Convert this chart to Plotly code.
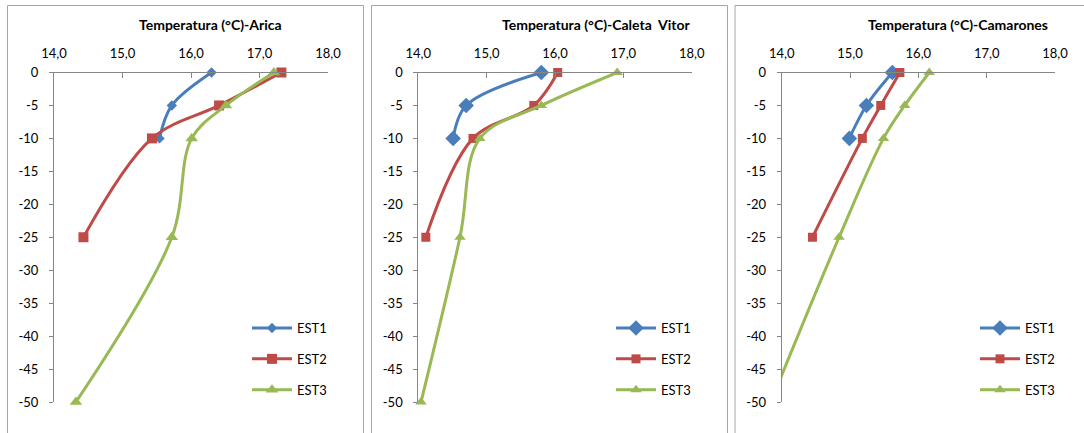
import plotly.graph_objects as go

# ---------------- data ----------------
stations = ["Arica", "Caleta  Vitor", "Camarones"]
series_names = ["EST1", "EST2", "EST3"]

depth_est1 = [0, -5, -10]
depth_est2 = [0, -5, -10, -25]
depth_est3 = [0, -5, -10, -25, -50]

arica_est1 = [16.30, 15.72, 15.54]
arica_est2 = [17.32, 16.41, 15.43, 14.43]
arica_est3 = [17.21, 16.51, 16.01, 15.72, 14.32]

vitor_est1 = [15.80, 14.70, 14.51]
vitor_est2 = [16.04, 15.69, 14.80, 14.11]
vitor_est3 = [16.91, 15.80, 14.90, 14.61, 14.04]

camarones_est1 = [15.62, 15.24, 14.99]
camarones_est2 = [15.73, 15.45, 15.18, 14.45]
camarones_est3 = [16.16, 15.80, 15.49, 14.84, 13.84]

x_tickvals = [14, 15, 16, 17, 18]
x_ticktext = ["14,0", "15,0", "16,0", "17,0", "18,0"]
y_tickvals = [0, -5, -10, -15, -20, -25, -30, -35, -40, -45, -50]
y_ticktext = ["0", "-5", "-10", "-15", "-20", "-25", "-30", "-35", "-40", "-45", "-50"]

panel_values = [
    [arica_est1, arica_est2, arica_est3],
    [vitor_est1, vitor_est2, vitor_est3],
    [camarones_est1, camarones_est2, camarones_est3],
]
depths = [depth_est1, depth_est2, depth_est3]

# ---------------- style ----------------
W, H = 1084, 433
colors = ["#4A7EBB", "#BE4B48", "#98B954"]
symbols = ["diamond", "square", "triangle-up"]
msizes = [[8, 10, 11], [12, 9, 10], [12, 9, 10]]
FONT = "Lato"
AX = "#868686"

plot_px = [(54, 328), (418.3, 691.7), (781.7, 1055)]
y_top, y_bot = 72.5, 402
title_cx = [210, 596, 958]
legend_x = [247, 611, 975]
borders = [(7.5, 363.5), (371.5, 727.5), (735, 1100)]

fig = go.Figure()
legend_ids = ["legend", "legend2", "legend3"]

for p in range(3):
    xa = "x" if p == 0 else f"x{p+1}"
    ya = "y" if p == 0 else f"y{p+1}"
    for s in range(3):
        fig.add_trace(go.Scatter(
            x=panel_values[p][s], y=depths[s], name=series_names[s],
            mode="lines+markers", line=dict(color=colors[s], width=3, shape="spline", smoothing=1),
            marker=dict(symbol=symbols[s], size=msizes[p][s], color=colors[s]),
            xaxis=xa, yaxis=ya, cliponaxis=False,
            legend=legend_ids[p], legendgroup=f"g{p}{s}",
        ))

layout = dict(
    width=W, height=H, margin=dict(l=0, r=0, t=0, b=0, autoexpand=False),
    paper_bgcolor="white", plot_bgcolor="white",
    font=dict(family=FONT, size=13, color="#000000"),
    showlegend=True, shapes=[], annotations=[],
)

for p in range(3):
    sfx = "" if p == 0 else str(p + 1)
    layout[f"xaxis{sfx}"] = dict(
        domain=[plot_px[p][0] / W, plot_px[p][1] / W], range=[14, 18], side="top",
        anchor="y" + sfx, tickvals=x_tickvals, ticktext=x_ticktext, automargin=False,
        ticks="inside", ticklen=5, tickcolor=AX, showline=True, linecolor=AX, linewidth=1,
        showgrid=False, zeroline=False, ticklabelstandoff=8, fixedrange=True,
        tickfont=dict(family=FONT, size=13, color="#000000"),
    )
    layout[f"yaxis{sfx}"] = dict(
        domain=[1 - y_bot / H, 1 - y_top / H], range=[-50, 0], anchor="x" + sfx,
        tickvals=y_tickvals, ticktext=y_ticktext, automargin=False,
        ticks="outside", ticklen=4, tickcolor=AX, showline=True, linecolor=AX, linewidth=1,
        showgrid=False, zeroline=False, ticklabelstandoff=8, fixedrange=True,
        tickfont=dict(family=FONT, size=13, color="#000000"),
    )
    layout["annotations"].append(dict(
        text=f"<b>Temperatura (°C)-{stations[p]}</b>", xref="paper", yref="paper",
        x=title_cx[p] / W, y=1 - 25 / H, xanchor="center", yanchor="middle",
        showarrow=False, font=dict(family=FONT, size=14, color="#000000"),
    ))
    layout["shapes"].append(dict(
        type="rect", xref="paper", yref="paper",
        x0=borders[p][0] / W, x1=borders[p][1] / W, y0=-0.1, y1=1 - 5.5 / H,
        line=dict(color="#A6A6A6", width=1), layer="below",
    ))
    lid = "legend" if p == 0 else f"legend{p+1}"
    layout[lid] = dict(
        x=legend_x[p] / W, y=1 - 313 / H, xanchor="left", yanchor="top",
        bgcolor="rgba(0,0,0,0)", borderwidth=0, tracegroupgap=11,
        font=dict(family=FONT, size=13, color="#000000"), itemwidth=40,
    )

fig.update_layout(**layout)
fig.write_html("out.html")
